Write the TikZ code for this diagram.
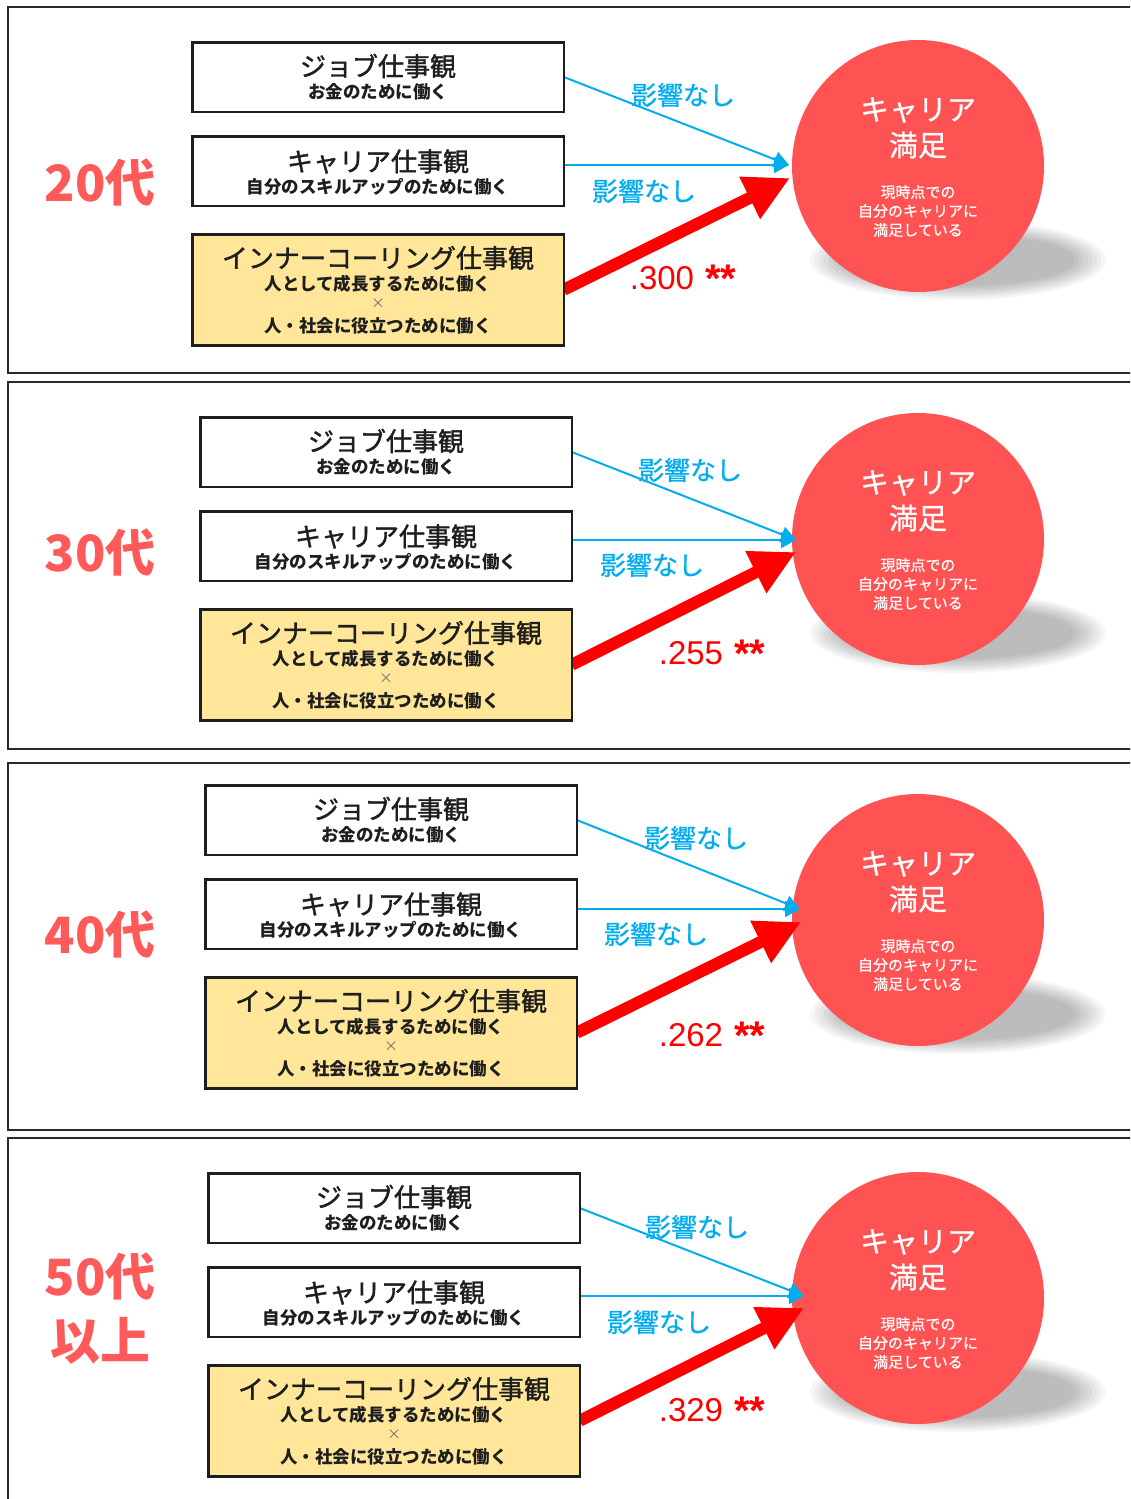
\documentclass[tikz,border=0pt]{standalone}
\usepackage{fontspec}
\newfontfamily\jp{Noto Sans CJK JP}
\newfontfamily\jpm[FakeBold=1.4]{Noto Sans CJK JP}
\newfontfamily\jpl[FakeBold=0.8]{Noto Sans CJK JP}
\newfontfamily\numf{Liberation Sans}
\usetikzlibrary{arrows.meta}
\definecolor{frameC}{HTML}{2A2A2A}
\definecolor{ageC}{HTML}{FF5A5A}
\definecolor{satC}{HTML}{FF5353}
\definecolor{blueC}{HTML}{00AEEF}
\definecolor{redC}{HTML}{FF0000}
\definecolor{innC}{HTML}{FFE699}
\definecolor{txtC}{HTML}{1E1E1E}
\pgfdeclarelayer{bg}
\pgfdeclarelayer{fg}
\pgfsetlayers{bg,main,fg}
\newcommand\starsmark{\raisebox{-3pt}{\fontsize{40}{40}\selectfont\bfseries **}}
\begin{document}
\begin{tikzpicture}[x=1pt,y=-1pt,
  frame/.style={draw=frameC,line width=2.5pt},
  vbox/.style={draw=txtC,line width=2.5pt,minimum width=371.5pt,inner sep=0pt,outer sep=0pt,anchor=north west},
  ttl/.style={font=\jpm\fontsize{26}{30}\selectfont,text=txtC,inner sep=0pt},
  subt/.style={font=\jp\bfseries\fontsize{17.5}{20}\selectfont,text=txtC,inner sep=0pt},
  timesC/.style={font=\jp\fontsize{14}{16}\selectfont,text=black!55,inner sep=0pt},
  agelab/.style={font=\jp\bfseries\fontsize{50}{64}\selectfont,text=ageC,align=center,inner sep=0pt},
  nolab/.style={font=\jpl\fontsize{26}{30}\selectfont,text=blueC,inner sep=0pt},
  satnode/.style={circle,fill=satC,minimum size=252pt,inner sep=0pt,outer sep=0pt},
  satbig/.style={font=\jpl\fontsize{29}{34}\selectfont,text=white,inner sep=0pt},
  satsmall/.style={font=\jpl\fontsize{15}{19}\selectfont,text=white,inner sep=0pt},
  coeflab/.style={font=\numf\fontsize{33}{40}\selectfont,text=redC,inner sep=0pt},
  bluearrow/.style={draw=blueC,line width=2pt,-{Triangle[length=15pt,width=16pt]}},
  redarrow/.style={draw=redC,line width=12pt,-{Triangle[length=45pt,width=44pt]}},
  shadowC/.style={fill=black,opacity=0.035}
]
\path[use as bounding box] (0,0) rectangle (1130,1499);
\clip (0,0) rectangle (1130,1499);
\begin{pgfonlayer}{bg}
  \fill[white] (0,0) rectangle (1130,1499);
\end{pgfonlayer}
\foreach \p/\ft/\fb/\bl/\jt/\cy/\bdx/\bdy/\rdx/\rdy/\lxa/\lya/\lxb/\lyb/\kx/\ky/\agey/\age/\coef in {
1/7/373/191/41/166/-3/-1/-2/12/683/95/644/191/683/278/183/{20代}/.300,
2/382/749/199/416/539/4/1/4/13/690/470/652/565/712/653/553/{30代}/.255,
3/763/1130/204/784/920/8/-11/9/2/696/838/656/934/712/1035/935/{40代}/.262,
4/1138/1540/207/1172/1298/12/-2/12/10/697/1227/659/1322/712/1410/1309/{50代\\以上}/.329}{
  % frame
  \draw[frame] (8,\ft) rectangle (1170,\fb);
  % age label
  \node[agelab] (age\p) at (100,\agey) {\age};
  % circle, shadow
  \begin{pgfonlayer}{bg}
    \foreach \k in {0,...,7}{
      \pgfmathsetmacro\srx{148-4.5*\k}
      \pgfmathsetmacro\sry{40-2*\k}
      \fill[shadowC] (958,\cy+94) ellipse [x radius=\srx pt, y radius=\sry pt];
    }
    \node[satnode] (sat\p) at (918,\cy) {};
    \node[satbig] (satA\p) at (918,\cy-56) {キャリア};
    \node[satbig] (satB\p) at (918,\cy-21) {満足};
    \node[satsmall] (satC\p) at (918,\cy+26) {現時点での};
    \node[satsmall] (satD\p) at (918,\cy+45) {自分のキャリアに};
    \node[satsmall] (satE\p) at (918,\cy+64) {満足している};
  \end{pgfonlayer}
  % boxes
  \begin{pgfonlayer}{fg}
    \node[vbox,minimum height=69.5pt,fill=white] (job\p) at (\bl+1.25,\jt+1.25) {};
    \node[vbox,minimum height=69.5pt,fill=white] (car\p) at (\bl+1.25,\jt+95.25) {};
    \node[vbox,minimum height=111pt,fill=innC] (inn\p) at (\bl+1.25,\jt+193.25) {};
    \node[ttl] (jobT\p) at (\bl+187,\jt+25) {ジョブ仕事観};
    \node[subt] (jobS\p) at (\bl+187,\jt+51) {お金のために働く};
    \node[ttl] (carT\p) at (\bl+187,\jt+120.5) {キャリア仕事観};
    \node[subt] (carS\p) at (\bl+187,\jt+145.5) {自分のスキルアップのために働く};
    \node[ttl] (innT\p) at (\bl+187,\jt+217) {インナーコーリング仕事観};
    \node[subt] (innS\p) at (\bl+187,\jt+243) {人として成長するために働く};
    \node[timesC] (innX\p) at (\bl+187,\jt+263) {×};
    \node[subt] (innU\p) at (\bl+187,\jt+285) {人・社会に役立つために働く};
  \end{pgfonlayer}
  % arrows
  \coordinate (bt\p) at ([shift={(\bdx,\bdy)}]sat\p.west);
  \coordinate (rt\p) at ([shift={(\rdx,\rdy)}]sat\p.west);
  \draw[bluearrow] (job\p.east) -- (bt\p);
  \draw[bluearrow] (car\p.east |- bt\p) -- (bt\p);
  \draw[redarrow] (inn\p.east) -- (rt\p);
  % labels
  \node[nolab] (noA\p) at (\lxa,\lya) {影響なし};
  \node[nolab] (noB\p) at (\lxb,\lyb) {影響なし};
  \node[coeflab,anchor=base] (coef\p) at (\kx,\ky+11.5) {\coef\hspace{11pt}\starsmark};
}
\end{tikzpicture}
\end{document}
